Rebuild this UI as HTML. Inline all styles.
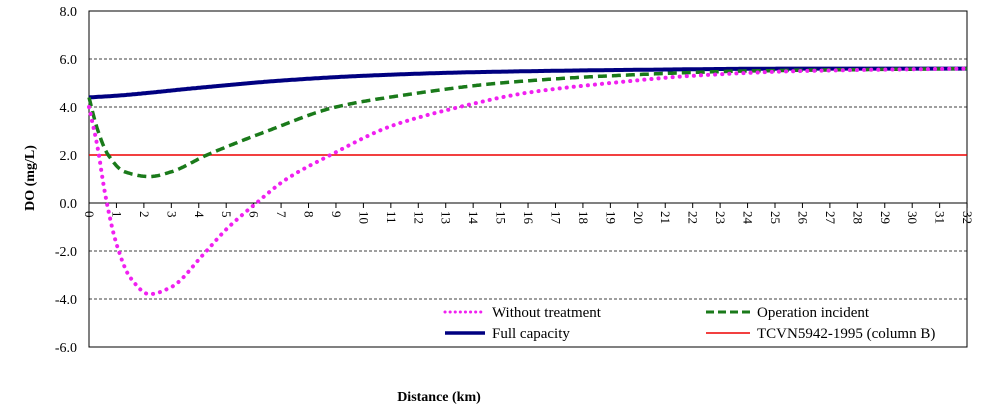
<!DOCTYPE html>
<html><head><meta charset="utf-8"><style>
body{margin:0;background:#fff}
svg{display:block;font-family:"Liberation Serif",serif}
</style></head><body>
<svg width="982" height="409" viewBox="0 0 982 409">
<rect x="89" y="11" width="878" height="336" fill="#fff" stroke="#000" stroke-width="1"/>
<g stroke="#000" stroke-width="0.8" stroke-dasharray="3,2">
<line x1="89" y1="59" x2="967" y2="59"/>
<line x1="89" y1="107" x2="967" y2="107"/>
<line x1="89" y1="251" x2="967" y2="251"/>
<line x1="89" y1="299" x2="967" y2="299"/>
</g>
<line x1="89" y1="203" x2="967" y2="203" stroke="#000"/>
<g font-size="14" text-anchor="end">
<text x="77" y="16">8.0</text><text x="77" y="64">6.0</text><text x="77" y="112">4.0</text>
<text x="77" y="160">2.0</text><text x="77" y="208">0.0</text><text x="77" y="256">-2.0</text>
<text x="77" y="304">-4.0</text><text x="77" y="352">-6.0</text>
</g>
<g stroke="#000" id="ticks"></g>
<g font-size="13" id="xl"></g>
<text font-size="14" font-weight="bold" transform="translate(34,178) rotate(-90)" text-anchor="middle">DO (mg/L)</text>
<text x="439" y="401" font-size="14" font-weight="bold" text-anchor="middle">Distance (km)</text>
<line x1="89" y1="155" x2="967" y2="155" stroke="#e00" stroke-width="1.5"/>
<polyline id="ft" fill="none" stroke="#000080" stroke-width="4"/>
<polyline id="op" fill="none" stroke="#1a7a1a" stroke-width="3.5" stroke-dasharray="9,5"/>
<polyline id="wt" fill="none" stroke="#f020f0" stroke-width="4" stroke-dasharray="0.1,7" stroke-linecap="round"/>
<g font-size="15">
<line x1="445" y1="312" x2="485" y2="312" stroke="#f020f0" stroke-width="3" stroke-dasharray="0.1,5" stroke-linecap="round"/>
<text x="492" y="317">Without treatment</text>
<line x1="706" y1="312" x2="750" y2="312" stroke="#1a7a1a" stroke-width="3" stroke-dasharray="8,4"/>
<text x="757" y="317">Operation incident</text>
<line x1="445" y1="333" x2="485" y2="333" stroke="#000080" stroke-width="3.5"/>
<text x="492" y="338">Full capacity</text>
<line x1="706" y1="333" x2="750" y2="333" stroke="#e00" stroke-width="1.5"/>
<text x="757" y="338">TCVN5942-1995 (column B)</text>
</g>
</svg>
<script>
var X=k=>89+k*27.44,Y=v=>203-v*24;
var t='',l='';
for(var i=0;i<=32;i++){var x=X(i);t+='<line x1="'+x+'" y1="203" x2="'+x+'" y2="208"/>';
l+='<text transform="translate('+(x-4)+',211) rotate(90)">'+i+'</text>';}
document.getElementById('ticks').innerHTML=t;document.getElementById('xl').innerHTML=l;
function spline(p){var n=p.length,m=[];
for(var i=0;i<n;i++){var d0=i>0?(p[i][1]-p[i-1][1])/(p[i][0]-p[i-1][0]):null,d1=i<n-1?(p[i+1][1]-p[i][1])/(p[i+1][0]-p[i][0]):null;
if(d0===null)m.push(d1);else if(d1===null)m.push(d0);else if(d0*d1<=0)m.push(0);else m.push(2/(1/d0+1/d1));}
return function(k){for(var i=1;i<n;i++){if(k<=p[i][0]){var a=p[i-1],b=p[i],h=b[0]-a[0],s=(k-a[0])/h,s2=s*s,s3=s2*s;
return (2*s3-3*s2+1)*a[1]+(s3-2*s2+s)*h*m[i-1]+(-2*s3+3*s2)*b[1]+(s3-s2)*h*m[i];}}return p[n-1][1];};}
function draw(id,p){var f=spline(p),pts=[];for(var k=0;k<=32.001;k+=0.05)pts.push(X(k).toFixed(1)+','+Y(f(k)).toFixed(1));document.getElementById(id).setAttribute('points',pts.join(' '));}
draw('ft',[[0,4.4],[1,4.47],[4,4.8],[7,5.1],[10,5.3],[14,5.45],[20,5.55],[26,5.6],[32,5.6]]);
draw('op',[[0,4.4],[0.3,3.1],[0.7,2.0],[1.3,1.3],[2.2,1.1],[3,1.3],[4.3,2.0],[6.5,3.0],[9,4.0],[11.5,4.5],[15,5.0],[19,5.3],[24,5.5],[32,5.6]]);
draw('wt',[[0,4.0],[0.3,2.4],[0.6,0.3],[1,-1.7],[1.5,-3.1],[2.2,-3.8],[3,-3.5],[4.2,-2.1],[5,-1.1],[6.1,0],[7.2,1.0],[8.8,2.0],[11,3.2],[13.5,4.0],[16,4.6],[19,5.0],[22,5.3],[26,5.5],[32,5.6]]);
</script>
</body></html>
